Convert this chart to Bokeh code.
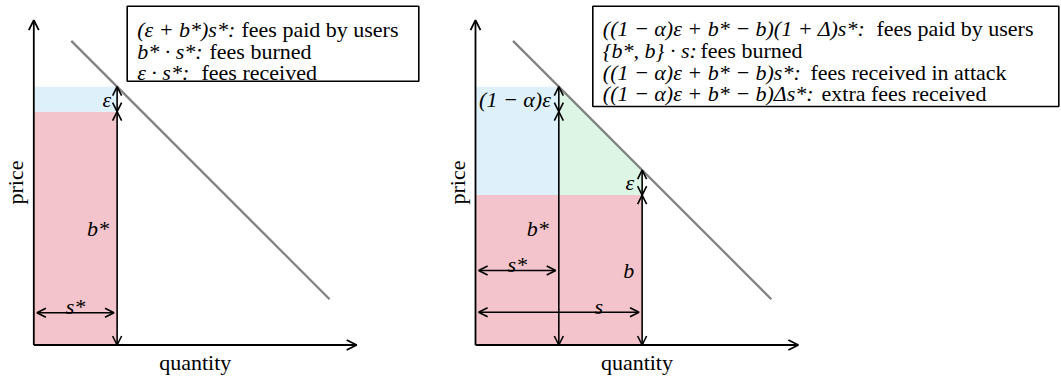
import numpy as np
from bokeh.plotting import figure
from bokeh.models import Range1d, Label, Arrow, OpenHead, BoxAnnotation
from bokeh.embed import file_html
from bokeh.resources import INLINE

# ---------------- data (schematic units) ----------------
axis_max_q = 15.5          # length of quantity axis
axis_max_p = 15.6          # length of price axis
demand_q = [1.8, 14.2]     # demand line end points (quantity)
demand_p = [14.6, 2.2]     # demand line end points (price)
s_star = 4.0               # s*
s_attack = 8.0             # s
b_star = 11.2              # b*
eps = 1.2                  # epsilon
eps_attack = 1.2           # (1 - alpha) epsilon
b_attack = 7.2             # b

legend_left_math = ["(ε + b*)s*:", "b* · s*:", "ε · s*:"]
legend_left_text = ["fees paid by users", "fees burned", "fees received"]
legend_right_math = ["((1 − α)ε + b* − b)(1 + Δ)s*:", "{b*, b} · s:",
                     "((1 − α)ε + b* − b)s*:", "((1 − α)ε + b* − b)Δs*:"]
legend_right_text = ["fees paid by users", "fees burned",
                     "fees received in attack", "extra fees received"]

# ---------------- layout / style ----------------
PX = 20.83                 # pixels per unit
W, H = 1061, 376
ORIG_LEFT = (33.3, 344.5)  # pixel position of each panel's origin
ORIG_RIGHT = (475.0, 344.5)
PINK, BLUE, GREEN = "#F3C4CB", "#DEF0FA", "#DDF5E4"
GRAY = "#808080"
FONT = "Liberation Serif"
FS = "22px"
LW = 1.6
INSET = 0.15

p = figure(width=W, height=H, output_backend="svg", toolbar_location=None,
           x_axis_type=None, y_axis_type=None,
           x_range=Range1d(-ORIG_LEFT[0] / PX, (W - ORIG_LEFT[0]) / PX),
           y_range=Range1d(-(H - ORIG_LEFT[1]) / PX, ORIG_LEFT[1] / PX),
           min_border=0, min_border_left=0, min_border_right=0,
           min_border_top=0, min_border_bottom=0)
p.extra_x_ranges = {"right": Range1d(-ORIG_RIGHT[0] / PX, (W - ORIG_RIGHT[0]) / PX)}
p.outline_line_color = None
p.background_fill_color = "white"
p.border_fill_color = "white"


def to_data(orig, px, py):
    return (px - orig[0]) / PX, (orig[1] - py) / PX


def head(size=9, lw=LW):
    return OpenHead(size=size, line_width=lw, line_color="black")


def darrow(xr, x0, y0, x1, y1):
    p.add_layout(Arrow(x_start=x0, y_start=y0, x_end=x1, y_end=y1, x_range_name=xr,
                       start=head(), end=head(), line_width=LW, line_color="black"))


def lab(xr, x, y, text, align="right", baseline="middle", x_offset=0, italic=True, angle=0):
    p.add_layout(Label(x=x, y=y, text=text, text_font=FONT, text_font_size=FS,
                       text_color="black", x_range_name=xr, angle=angle,
                       text_font_style="italic" if italic else "normal",
                       text_align=align, text_baseline=baseline, x_offset=x_offset))


def axes(xr):
    p.add_layout(Arrow(x_start=0, y_start=0, x_end=axis_max_q, y_end=0, x_range_name=xr,
                       end=head(10, 1.8), line_width=1.8, line_color="black"))
    p.add_layout(Arrow(x_start=0, y_start=0, x_end=0, y_end=axis_max_p, x_range_name=xr,
                       end=head(10, 1.8), line_width=1.8, line_color="black"))
    lab(xr, axis_max_q / 2, -0.84, "quantity", align="center", italic=False)
    lab(xr, -0.86, axis_max_p / 2, "price", align="center", italic=False, angle=np.pi / 2)


def legend(xr, orig, box, baselines, math, text, text_x):
    l, t = to_data(orig, box[0], box[1])
    r, b = to_data(orig, box[2], box[3])
    p.add_layout(BoxAnnotation(left=l, right=r, top=t, bottom=b, x_range_name=xr,
                               fill_color="white", fill_alpha=1, line_color="black",
                               line_alpha=1, line_width=1.6))
    for yb, m, tx, txx in zip(baselines, math, text, text_x):
        x0, y0 = to_data(orig, box[0] + 10, yb)
        x1, _ = to_data(orig, txx, yb)
        lab(xr, x0, y0, m, align="left", baseline="alphabetic")
        lab(xr, x1, y0, tx, align="left", baseline="alphabetic", italic=False)


# ---------------- left panel ----------------
L = "default"
p.quad(left=[0], right=[s_star], bottom=[0], top=[b_star], fill_color=PINK, line_color=None)
p.quad(left=[0], right=[s_star], bottom=[b_star], top=[b_star + eps], fill_color=BLUE, line_color=None)
p.line(demand_q, demand_p, line_color=GRAY, line_width=2.2)
axes(L)
darrow(L, s_star, b_star + eps, s_star, b_star)
darrow(L, s_star, b_star, s_star, 0)
y_s1 = 1.55
darrow(L, INSET, y_s1, s_star - INSET, y_s1)
lab(L, s_star, b_star + eps / 2, "ε", x_offset=-6)
lab(L, s_star, b_star / 2, "b*", x_offset=-8)
lab(L, s_star / 2, y_s1 + 0.3, "s*", align="center", baseline="alphabetic")
legend(L, ORIG_LEFT, (126.7, 5.7, 418.3, 80.7), [29, 50.7, 72.3],
       legend_left_math, legend_left_text, [241, 209, 201])

# ---------------- right panel ----------------
R = "right"
p.quad(left=[0], right=[s_attack], bottom=[0], top=[b_attack], fill_color=PINK,
       line_color=None, x_range_name=R)
p.quad(left=[0], right=[s_star], bottom=[b_attack], top=[b_star + eps_attack], fill_color=BLUE,
       line_color=None, x_range_name=R)
p.patch([s_star, s_star, s_attack, s_attack],
        [b_attack, b_star + eps_attack, b_attack + eps, b_attack],
        fill_color=GREEN, line_color=None, x_range_name=R)
p.line(demand_q, demand_p, line_color=GRAY, line_width=2.2, x_range_name=R)
axes(R)
darrow(R, s_star, b_star + eps_attack, s_star, b_star)
darrow(R, s_star, b_star, s_star, 0)
darrow(R, s_attack, b_attack + eps, s_attack, b_attack)
darrow(R, s_attack, b_attack, s_attack, 0)
y_s2, y_s3 = 3.58, 1.57
darrow(R, INSET, y_s2, s_star - INSET, y_s2)
darrow(R, INSET, y_s3, s_attack - INSET, y_s3)
lab(R, s_star, b_star + eps_attack / 2, "(1 − α)ε", x_offset=-8)
lab(R, s_star, b_star / 2, "b*", x_offset=-10)
lab(R, s_star / 2, y_s2 + 0.3, "s*", align="center", baseline="alphabetic")
lab(R, s_attack * 0.74, y_s3 + 0.3, "s", align="center", baseline="alphabetic")
lab(R, s_attack, b_attack / 2, "b", x_offset=-8)
lab(R, s_attack, b_attack + eps / 2, "ε", x_offset=-8)
legend(R, ORIG_RIGHT, (592.3, 5.7, 1058.3, 106), [28.3, 50, 71.7, 93.3],
       legend_right_math, legend_right_text, [876, 700, 810, 821])

open("out.html", "w").write(file_html(p, INLINE))
